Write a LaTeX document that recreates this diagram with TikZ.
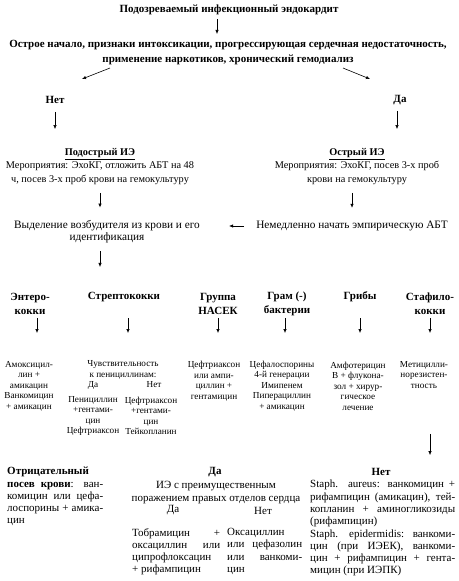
\documentclass[tikz,border=0pt]{standalone}
\usepackage{fontspec}
\setmainfont{Liberation Serif}
\usetikzlibrary{arrows.meta, positioning}

\begin{document}
\begin{tikzpicture}[x=1pt, y=-1pt,
  ttl/.style={font=\fontsize{11}{15}\selectfont\bfseries, align=center, inner sep=0pt},
  hd/.style={font=\fontsize{11}{14}\selectfont\bfseries, align=center, inner sep=0pt},
  txt/.style={font=\fontsize{10.3}{13.5}\selectfont, align=center, inner sep=0pt},
  big/.style={font=\fontsize{11.3}{12}\selectfont, align=center, inner sep=0pt},
  drug/.style={font=\fontsize{9.2}{10.5}\selectfont, align=center, inner sep=0pt},
  para/.style={font=\fontsize{11}{12.3}\selectfont, align=justify, inner sep=0pt, anchor=north west,
    execute at begin node={\hyphenpenalty=10000\exhyphenpenalty=10000}},
  arr/.style={-{Latex[length=4pt,width=3.4pt]}, line width=0.6pt}
]
\useasboundingbox (0,0) rectangle (458,581);

% top of the chart
\node[ttl] (susp) at (229,10) {Подозреваемый инфекционный эндокардит};
\node[ttl] (crit) at (228,52.5) {Острое начало, признаки интоксикации, прогрессирующая сердечная недостаточность,\\применение наркотиков, хронический гемодиализ};
\node[hd] (no) at (55,100) {Нет};
\node[hd] (yes) at (400,100) {Да};

\draw[arr, shorten <=4pt, shorten >=6pt] ([xshift=-12pt]susp.south) -- ([xshift=-12pt]susp.south |- crit.north);
\draw[arr] ([xshift=-118pt,yshift=-3pt]crit.south) -- ++(-28,11);
\draw[arr] ([xshift=115pt,yshift=-3pt]crit.south) -- ++(27,11);

% subacute / acute
\node[txt] (subac) at (100,166.5) {\underline{\textbf{Подострый ИЭ}}\\Мероприятия: ЭхоКГ, отложить АБТ на 48\\ч, посев 3-х проб крови на гемокультуру};
\node[txt] (acute) at (357,166.5) {\underline{\textbf{Острый ИЭ}}\\Мероприятия: ЭхоКГ, посев 3-х проб\\крови на гемокультуру};
\node[big] (isol) at (107,232) {Выделение возбудителя из крови и его\\идентификация};
\node[big] (empir) at (352,226) {Немедленно начать эмпирическую АБТ};

\draw[arr, shorten <=8pt, shorten >=19pt] (no.south) -- (no.south |- subac.north);
\draw[arr, shorten <=6pt, shorten >=19pt] ([xshift=-3pt]yes.south) -- ([xshift=-3pt]yes.south |- acute.north);
\draw[arr, shorten <=8pt, shorten >=13pt] (subac.south) -- (subac.south |- isol.north);
\draw[arr, shorten <=8pt, shorten >=13pt] ([xshift=-5pt]acute.south) -- ([xshift=-5pt]acute.south |- empir.north);
\draw[arr, shorten <=12pt, shorten >=29pt] (empir.west) -- (empir.west -| isol.east);

% pathogens
\node[hd] (ent) at (30,304) {Энтеро-\\кокки};
\node[hd] (strep) at (124,297) {Стрептококки};
\node[hd] (hacek) at (218,304) {Группа\\НАСЕК};
\node[hd] (gram) at (287,304) {Грам (-)\\бактерии};
\node[hd] (fungi) at (360,297) {Грибы};
\node[hd] (staph) at (430,304) {Стафило-\\кокки};

\draw[arr, shorten <=8pt, shorten >=25pt] ([xshift=-7pt]isol.south) -- ([xshift=-7pt]isol.south |- strep.north);

\coordinate (rowA) at (0,318);
\coordinate (rowB) at (0,333);
\foreach \n/\dx in {ent/7, strep/4, hacek/0, gram/-2, fungi/0, staph/0}
  \draw[arr] ([xshift=\dx pt]\n.south |- rowA) -- ([xshift=\dx pt]\n.south |- rowB);

% therapy
\node[drug] (amox) at (29,386) {Амоксицил-\\лин +\\амикацин\\Ванкомицин\\+ амикацин};
\node[drug] (sens) at (123,370) {Чувствительность\\к пенициллинам:};
\node[drug] (sensY) at (93,385) {Да};
\node[drug] (sensN) at (154,385) {Нет};
\node[drug] (penY) at (93,416) {Пенициллин\\+гентами-\\цин\\Цефтриаксон};
\node[drug] (penN) at (151,416) {Цефтриаксон\\+гентами-\\цин\\Тейкопланин};
\node[drug] (hacekD) at (214,381) {Цефтриаксон\\или ампи-\\циллин +\\гентамицин};
\node[drug] (gramD) at (282,386) {Цефалоспорины\\4-й генерации\\Имипенем\\Пиперациллин\\+ амикацин};
\node[drug] (fungD) at (358,386) {Амфотерицин\\В + флукона-\\зол + хирур-\\гическое\\лечение};
\node[drug] (mrsa) at (424,375) {Метицилли-\\норезистен-\\тность};

% bottom part
\node[para, text width=96pt] (neg) at (7,467) {\textbf{Отрицательный}\newline \textbf{посев крови}: ван-\linebreak комицин или цефа-\linebreak лоспорины + амика-\linebreak цин};
\node[hd] (midYes) at (215,472) {Да};
\node[txt, font=\fontsize{11}{12.3}\selectfont] (right) at (216,492.5) {ИЭ с преимущественным\\поражением правых отделов сердца};
\node[txt, font=\fontsize{11}{12.3}\selectfont] (rYes) at (173,510.5) {Да};
\node[txt, font=\fontsize{11}{12.3}\selectfont] (rNo) at (263,510.5) {Нет};
\node[para, text width=88pt] (tobra) at (132,528) {Тобрамицин +\linebreak оксациллин или\linebreak ципрофлоксацин\newline + рифампицин};
\node[para, text width=75pt] (oxa) at (227,528) {Оксациллин\newline или цефазолин\linebreak или ванкоми-\linebreak цин};
\node[hd] (stNo) at (381,472) {Нет};
\node[para, text width=145pt] (staphD) at (310,480) {Staph. aureus: ванкомицин +\linebreak рифампицин (амикацин), тей-\linebreak копланин + аминогликозиды\linebreak (рифампицин)\newline Staph. epidermidis: ванкоми-\linebreak цин (при ИЭЕК), ванкоми-\linebreak цин + рифампицин + гента-\linebreak мицин (при ИЭПК)};

\draw[arr, shorten <=45pt, shorten >=13pt] ([xshift=6pt]mrsa.south) -- ([xshift=6pt]mrsa.south |- stNo.north);
\end{tikzpicture}
\end{document}
